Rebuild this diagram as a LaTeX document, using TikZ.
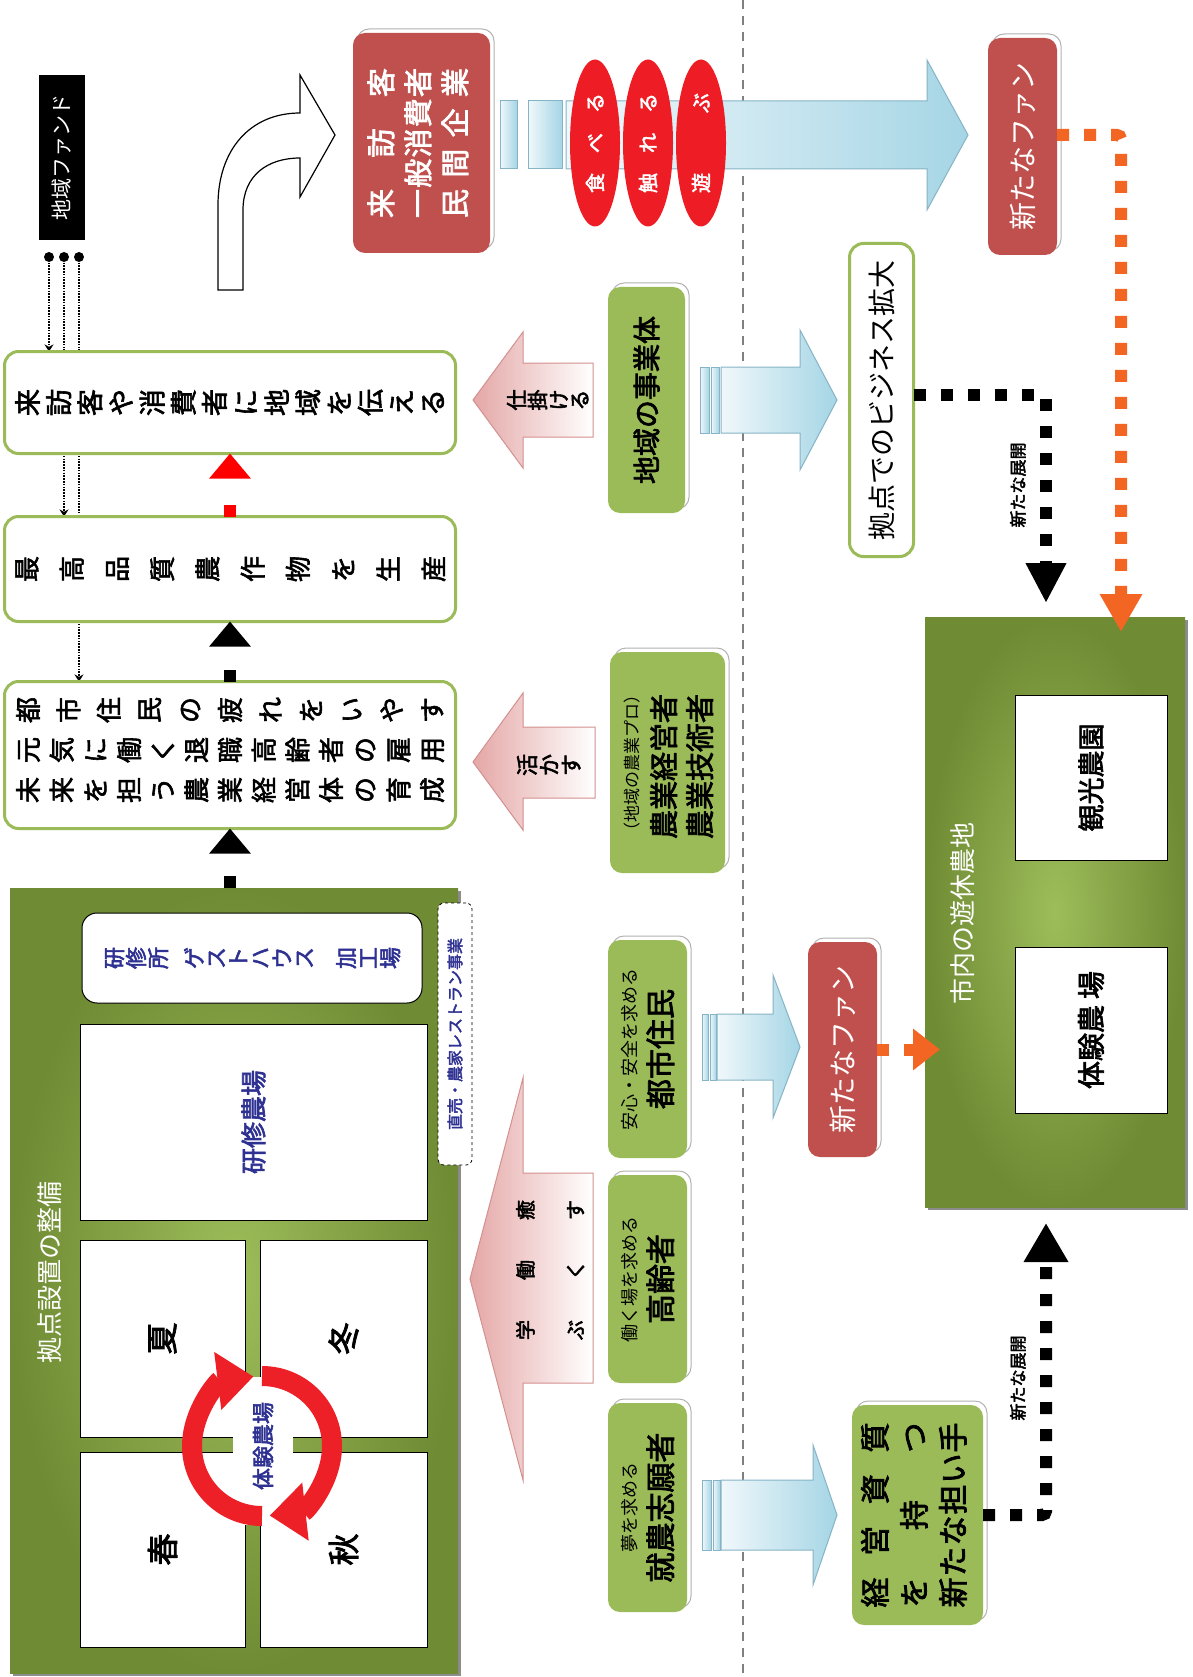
\documentclass[tikz,border=0pt]{standalone}
\usepackage{fontspec}
\setmainfont{Noto Sans CJK JP}[AutoFakeBold=2.5]
\newfontfamily\jpm{Noto Sans CJK JP}[FakeBold=2.2]
\usetikzlibrary{arrows.meta,shapes.geometric,shadows,calc,backgrounds}
\definecolor{gbd}{HTML}{9BBB59}
\definecolor{gfl}{HTML}{9BBB59}
\definecolor{rfl}{HTML}{C0504D}
\definecolor{dgr}{HTML}{6F8B34}
\definecolor{lgr}{HTML}{9DBD5A}
\definecolor{txb}{HTML}{2E3192}
\definecolor{ell}{HTML}{EE1C24}
\definecolor{org}{HTML}{F26522}
\definecolor{pk}{HTML}{E4A7A6}
\definecolor{pke}{HTML}{D4908F}
\definecolor{bla}{HTML}{F0F8FB}
\definecolor{blb}{HTML}{A5D5E5}
\definecolor{ble}{HTML}{86B4C6}
\definecolor{sepc}{HTML}{808080}
\definecolor{ringc}{HTML}{EE2027}
\newcommand\fsz[2]{\fontsize{#1}{#2}\selectfont}
\newcommand\Rt[1]{\rotatebox{90}{#1}}
\newcommand\Vchar[1]{\rotatebox{90}{\makebox[1em]{\rule[-.12em]{0pt}{1em}#1}}}
\makeatletter
\def\V@end{\V@end}
\def\Vsep{}
\newcommand\VN[1]{\V@first#1\V@end}
\def\V@first#1{\ifx#1\V@end\else\Vchar{#1}\expandafter\V@rest\fi}
\def\V@rest#1{\ifx#1\V@end\else\Vsep\Vchar{#1}\expandafter\V@rest\fi}
\newcommand\VJ[2]{\makebox[#1]{\def\Vsep{\hfill}\VN{#2}}}
\makeatother
\tikzset{
  every node/.style={inner sep=0pt, outer sep=0pt},
  wbox/.style={draw=gbd, line width=3pt, fill=white, rounded corners=14pt},
  bev/.style={general shadow={fill=white, draw=black!30, line width=1pt, shadow xshift=4pt, shadow yshift=4pt}},
  gbox/.style={fill=gfl, rounded corners=12pt, bev},
  rbox/.style={fill=rfl, rounded corners=12pt, bev, text=white},
  field/.style={inner color=lgr, outer color=dgr, general shadow={fill=black!45, shadow xshift=3pt, shadow yshift=-3pt}},
  wrect/.style={draw=black, line width=0.9pt, fill=white},
  barrow/.style={left color=bla, right color=blb, draw=ble, line width=1pt},
  parrow/.style={left color=pk, right color=white, draw=pke, line width=1pt},
  bdash/.style={line width=12pt, black, dash pattern=on 12pt off 15pt},
  sdash/.style={line width=12pt, dash pattern=on 12pt off 40pt},
  odash/.style={line width=12pt, org, dash pattern=on 12pt off 15pt},
  fdot/.style={line width=1.3pt, dash pattern=on 1.6pt off 1.2pt, -{Stealth[length=7pt,width=9pt]}},
}
\begin{document}
\begin{tikzpicture}[x=1pt,y=-1pt]
\useasboundingbox (0,0) rectangle (1192,1677);

% ---------- fields (drawn first) ----------
\node[field, minimum width=260pt, minimum height=590pt] (farm) at (1055,912) {};
\node (farmlbl) at (963,913) {\Rt{\fsz{26}{30}\color{white}市内の遊休農地}};
\node[wrect, minimum width=152pt, minimum height=165pt] (kanko) at (1091,777.5) {\Rt{\fsz{27}{30}\bfseries 観光農園}};
\node[wrect, minimum width=152pt, minimum height=166pt] (taiken) at (1091,1030) {\Rt{\fsz{28}{30}\bfseries 体験農\hspace{6pt}場}};

\node[field, minimum width=448pt, minimum height=785pt] (kyoten) at (234,1280.5) {};
\node (kyolbl) at (50,1272) {\Rt{\fsz{26}{30}\color{white}拠点設置の整備}};
\node[draw=black, line width=1pt, fill=white, rounded corners=15pt, minimum width=340pt, minimum height=90pt] (ken1) at (252,958)
  {\color{txb}\fsz{22}{26}\bfseries\VN{研修所}\hspace{14pt}\VN{ゲストハウス}\hspace{20pt}\VN{加工場}};
\node[wrect, minimum width=347pt, minimum height=196pt] (ken2) at (253.5,1122) {\Rt{\color{txb}\fsz{26}{30}\bfseries 研修農場}};
\node[wrect, minimum width=165pt, minimum height=197pt] (natsu) at (162.5,1338.5) {\Rt{\fsz{32}{34}\bfseries 夏}};
\node[wrect, minimum width=167pt, minimum height=197pt] (fuyu) at (343.5,1338.5) {\Rt{\fsz{32}{34}\bfseries 冬}};
\node[wrect, minimum width=165pt, minimum height=195pt] (haru) at (162.5,1549.5) {\Rt{\fsz{32}{34}\bfseries 春}};
\node[wrect, minimum width=167pt, minimum height=195pt] (aki) at (343.5,1549.5) {\Rt{\fsz{32}{34}\bfseries 秋}};
\node[fill=white, minimum width=60pt, minimum height=148pt] (ctr) at (263,1451) {};
\coordinate (rc) at (262,1446);
\draw[ringc, line width=20pt, -{Triangle[width=56pt,length=36pt]}] ([shift={(90:70)}]rc) arc[start angle=90, end angle=263, radius=70];
\draw[ringc, line width=20pt, -{Triangle[width=56pt,length=36pt]}] ([shift={(270:70)}]rc) arc[start angle=270, end angle=443.7, radius=70];
\node (tkn) at (263,1446) {\Rt{\color{txb}\fsz{22}{26}\bfseries 体験農場}};
\node[draw=black, dashed, line width=0.8pt, fill=white, rounded corners=6pt, minimum width=34pt, minimum height=262pt] (choku) at (455,1034)
  {\Rt{\color{txb}\fsz{16}{18}\bfseries 直売・農家レストラン事業}};

% ---------- left column boxes ----------
\node[fill=black, minimum width=46pt, minimum height=165pt, text=white] (fund) at (62,157.5) {\Rt{\fsz{21}{24}地域ファンド}};
\foreach \i/\x in {1/49,2/64,3/79} {\fill (\x,257) circle (5pt); \coordinate (d\i) at (\x,257);}

\node[wbox, minimum width=451pt, minimum height=102pt] (b1) at (230,402.5) {\jpm\fsz{27}{30}\VJ{432pt}{来訪客や消費者に地域を伝える}};
\node[wbox, minimum width=451pt, minimum height=105pt] (b2) at (230,569) {\jpm\fsz{26}{30}\VJ{433pt}{最高品質農作物を生産}};
\node[wbox, minimum width=451pt, minimum height=147pt] (b3) at (230,755) {\jpm\fsz{26}{40}\begin{tabular}{@{}c@{}}\VJ{430pt}{都市住民の疲れをいやす}\\\VJ{430pt}{元気に働く退職高齢者の雇用}\\\VJ{430pt}{未来を担う農業経営体の育成}\end{tabular}};

\draw[sdash, black, -{Triangle[width=40pt,length=25pt]}] (b3.south |- kyoten.north) -- (b3.south);
\draw[sdash, black, -{Triangle[width=40pt,length=25pt]}] (b3.north) -- (b2.south);
\draw[sdash, red, -{Triangle[width=40pt,length=25pt]}] (b2.north) -- (b1.south);

% white bent arrow
\draw[fill=white, line width=1.2pt] (218,290) -- (218,205) .. controls (218,150) and (250,113) .. (300,113) -- (300,75) -- (335,135) -- (300,197) -- (300,158) .. controls (268,158) and (243,175) .. (243,210) -- (243,290) -- cycle;

% ---------- top row ----------
\node[rbox, minimum width=137pt, minimum height=220pt] (r1) at (421.5,143)
  {\Rt{\fsz{29}{37}\bfseries\begin{tabular}{@{}c@{}}\makebox[150pt]{来\hfill 訪\hfill 客}\\\makebox[150pt]{一\hfill 般\hfill 消\hfill 費\hfill 者}\\\makebox[150pt]{民\hfill 間\hfill 企\hfill 業}\end{tabular}}};
\draw[barrow] (500,101) rectangle (517,169);
\draw[barrow] (528,101) rectangle (562,169);
\draw[barrow] (566,101) -- (927,101) -- (927,60) -- (968,135) -- (927,210) -- (927,169) -- (566,169) -- cycle;
\node[ellipse, fill=ell, minimum width=50pt, minimum height=167pt, text=white] (e1) at (595,143) {\Rt{\fsz{20}{24}\bfseries\makebox[100pt]{食\hfill べ\hfill る}}};
\node[ellipse, fill=ell, minimum width=50pt, minimum height=167pt, text=white] (e2) at (648,143) {\Rt{\fsz{20}{24}\bfseries\makebox[100pt]{触\hfill れ\hfill る}}};
\node[ellipse, fill=ell, minimum width=50pt, minimum height=167pt, text=white] (e3) at (701,143) {\Rt{\fsz{20}{24}\bfseries\makebox[100pt]{遊\hfill ぶ}}};
\node[rbox, minimum width=69pt, minimum height=217pt] (nf1) at (1022.5,146.5) {\Rt{\fsz{28}{32}新たなファン}};
\draw[odash, rounded corners=4pt, -{Triangle[width=40pt,length=38pt]}] ([yshift=11.5pt]nf1.east) -| ([xshift=66pt,yshift=-15pt]farm.north);

% ---------- second row ----------
\draw[parrow] (593,363) -- (523,363) -- (523,332) -- (473,400) -- (523,468) -- (523,437) -- (593,437) -- cycle;
\node (shikake) at (548,400) {\fsz{21}{24}\bfseries\VN{仕掛ける}};
\node[gbox, minimum width=77pt, minimum height=226pt] (jg) at (646.5,400) {\Rt{\fsz{28}{32}\bfseries 地域の事業体}};
\draw[barrow] (700,367) rectangle (709,433);
\draw[barrow] (711,367) rectangle (719,433);
\draw[barrow] (721,367) -- (800,367) -- (800,330) -- (837,400) -- (800,470) -- (800,433) -- (721,433) -- cycle;
\node[wbox, minimum width=64pt, minimum height=313pt] (kb) at (881.5,400) {\Rt{\fsz{28}{32}拠点でのビジネス拡大}};
\draw[bdash, rounded corners=4pt, -{Triangle[width=38pt,length=40pt]}] ([yshift=5pt]kb.east) -| ([xshift=-9pt,yshift=14pt]farm.north);
\node (lab1) at (1018,485) {\Rt{\fsz{17}{20}\bfseries 新たな展開}};

% ---------- third row ----------
\draw[parrow] (595,727) -- (523,727) -- (523,693) -- (473,762) -- (523,830) -- (523,798) -- (595,798) -- cycle;
\node (ikasu) at (549,765) {\fsz{22}{26}\bfseries\VN{活かす}};
\node[gbox, minimum width=115pt, minimum height=221pt] (pro) at (667.5,762.5)
  {\Rt{\fsz{29}{36}\begin{tabular}{@{}l@{}}{\fsz{17}{20}（地域の農業プロ）}\\\bfseries 農業経営者\\\bfseries 農業技術者\end{tabular}}};

% ---------- lower rows ----------
\draw[parrow] (593,1173) -- (523,1173) -- (523,1078) -- (470,1279) -- (523,1480) -- (523,1383) -- (593,1383) -- cycle;
\node (manabu) at (548,1270) {\Rt{\fsz{20}{50}\bfseries\begin{tabular}{@{}c@{}}学\hspace{40pt}働\hspace{40pt}癒\\ぶ\hspace{40pt}く\hspace{40pt}す\end{tabular}}};

\node[gbox, minimum width=79pt, minimum height=218pt] (tosi) at (647.5,1049)
  {\Rt{\fsz{30}{33}\begin{tabular}{@{}c@{}}{\fsz{18}{20}安心・安全を求める}\\\bfseries 都市住民\end{tabular}}};
\node[gbox, minimum width=79pt, minimum height=208pt] (kou) at (647.5,1279)
  {\Rt{\fsz{30}{33}\begin{tabular}{@{}c@{}}{\fsz{18}{20}働く場を求める}\\\bfseries 高齢者\end{tabular}}};
\node[gbox, minimum width=79pt, minimum height=209pt] (shu) at (647.5,1507.5)
  {\Rt{\fsz{30}{33}\begin{tabular}{@{}c@{}}{\fsz{18}{20}夢を求める}\\\bfseries 就農志願者\end{tabular}}};

\draw[barrow] (702,1014) rectangle (708,1080);
\draw[barrow] (710,1014) rectangle (716,1080);
\draw[barrow] (717,1014) -- (773,1014) -- (773,975) -- (800,1047) -- (773,1118) -- (773,1080) -- (717,1080) -- cycle;
\node[rbox, minimum width=69pt, minimum height=215pt] (nf2) at (842.5,1049.5) {\Rt{\fsz{28}{32}新たなファン}};
\draw[odash, -{Triangle[width=40pt,length=27pt]}] (nf2.east) -- ($(nf2.east -| farm.west)+(15,0)$);

\draw[barrow] (702,1480) rectangle (711,1550);
\draw[barrow] (713,1480) rectangle (720,1550);
\draw[barrow] (721,1480) -- (813,1480) -- (813,1445) -- (837,1515) -- (813,1585) -- (813,1550) -- (721,1550) -- cycle;
\node[gbox, minimum width=131pt, minimum height=220pt] (nin) at (917.5,1515)
  {\Rt{\fsz{30}{39}\bfseries\begin{tabular}{@{}c@{}}\makebox[185pt]{経\hfill 営\hfill 資\hfill 質}\\\makebox[185pt]{を\hfill 持\hfill つ}\\\makebox[185pt]{新\hfill た\hfill な\hfill 担\hfill い\hfill 手}\end{tabular}}};
\draw[bdash, rounded corners=4pt, -{Triangle[width=42pt,length=39pt]}] (nin.east) -| ([xshift=-9pt,yshift=-16pt]farm.south);
\node (lab2) at (1018,1378) {\Rt{\fsz{17}{20}\bfseries 新たな展開}};

% ---------- background layer ----------
\begin{scope}[on background layer]
\fill[white] (0,0) rectangle (1192,1677);
\draw[sepc, line width=1.6pt, dash pattern=on 9pt off 7pt] (743,0) -- (743,1677);
\draw[fdot] (d1) -- (d1 |- b1.north);
\draw[fdot] (d2) -- (d2 |- b2.north);
\draw[fdot] (d3) -- (d3 |- b3.north);
\end{scope}
\end{tikzpicture}
\end{document}
